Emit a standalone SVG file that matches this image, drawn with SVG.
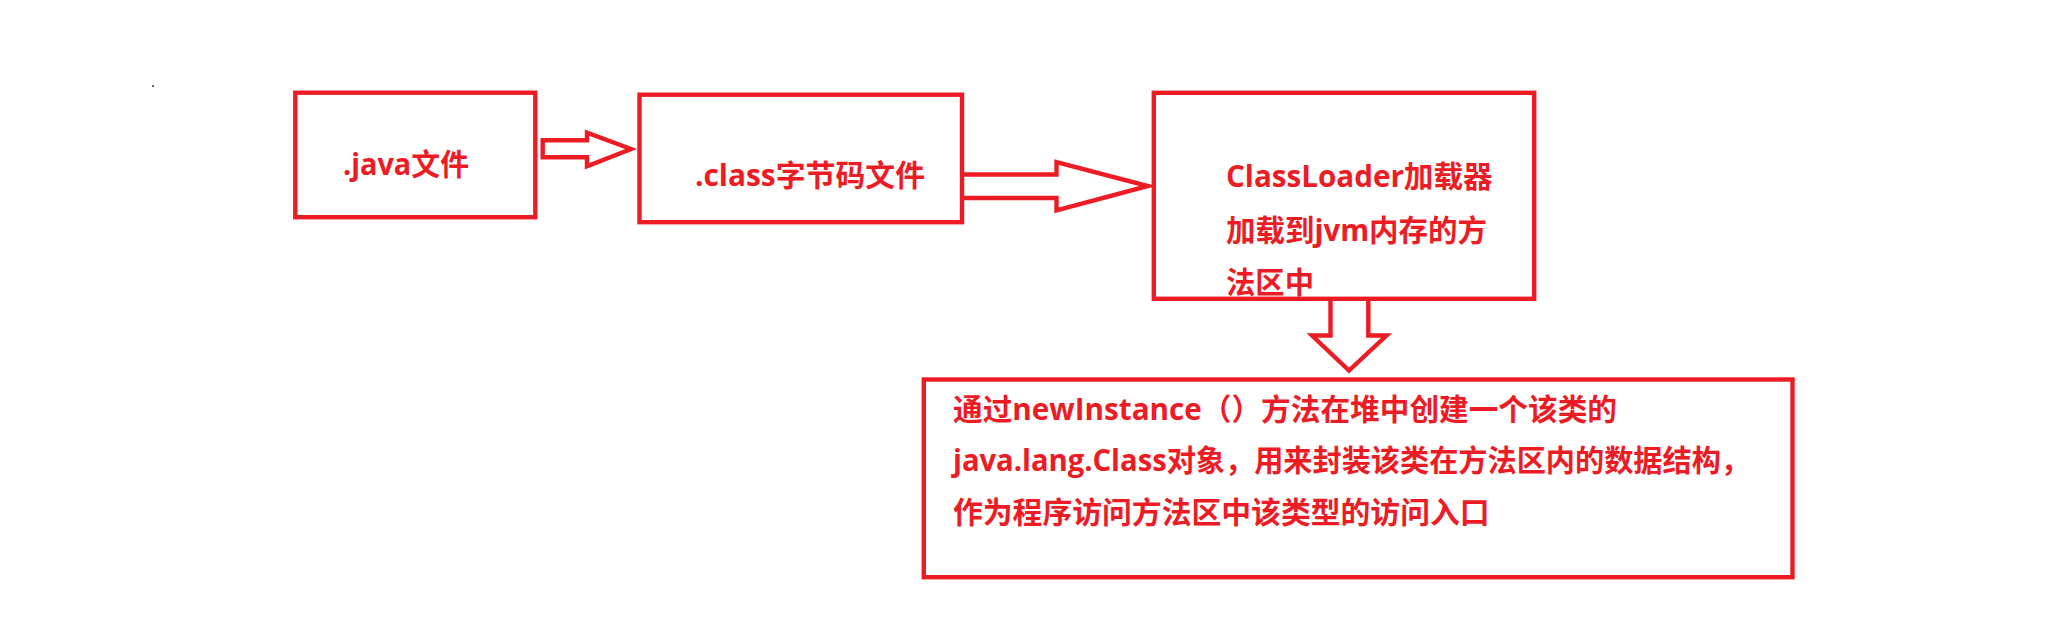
<svg xmlns="http://www.w3.org/2000/svg" width="2051" height="622" viewBox="0 0 2051 622">
<style>
.box{fill:none;stroke:#ED1C24;stroke-width:4.4}
.arr{fill:none;stroke:#ED1C24;stroke-width:4.4;stroke-linejoin:miter}
.t{font-family:"Open Sans","Noto Sans CJK SC",sans-serif;font-weight:bold;font-size:30px;fill:#ED1C24}
</style>
<rect width="2051" height="622" fill="#ffffff"/>
<rect x="152" y="85" width="2" height="2" fill="#666666"/>
<g id="connectors">
<polygon class="arr" points="542.7,140.3 587,140.3 587,132.7 631,149 587,166.3 587,157.3 542.7,157.3"/>
<polyline class="arr" points="963,174.5 1056.5,174.5 1056.5,162 1148,186 1056.5,210.5 1056.5,198 963,198"/>
<polyline class="arr" points="1330.5,299 1330.5,335.5 1312,335.5 1349,370.5 1386.5,335.5 1368.3,335.5 1368.3,299"/>
</g>
<g id="node-java">
<rect class="box" x="295.3" y="92.7" width="240" height="124.5"/>
<text class="t" x="343" y="175" textLength="126" lengthAdjust="spacingAndGlyphs">.java文件</text>
</g>
<g id="node-class">
<rect class="box" x="639.5" y="94.7" width="322.5" height="127.5"/>
<text class="t" x="695" y="186" textLength="230" lengthAdjust="spacingAndGlyphs">.class字节码文件</text>
</g>
<g id="node-classloader">
<rect class="box" x="1153.8" y="92.8" width="380.4" height="206"/>
<text class="t" x="1226" y="187.3" textLength="266.7" lengthAdjust="spacingAndGlyphs">ClassLoader加载器</text>
<text class="t" x="1226" y="240.7" textLength="261" lengthAdjust="spacingAndGlyphs">加载到jvm内存的方</text>
<text class="t" x="1226" y="293.3" textLength="88" lengthAdjust="spacingAndGlyphs">法区中</text>
</g>
<g id="node-newinstance">
<rect class="box" x="923.8" y="379.5" width="868.7" height="197.7"/>
<text class="t" x="953" y="420" textLength="664" lengthAdjust="spacingAndGlyphs">通过newInstance（）方法在堆中创建一个该类的</text>
<text class="t" x="953" y="470.5" textLength="797" lengthAdjust="spacingAndGlyphs">java.lang.Class对象，用来封装该类在方法区内的数据结构，</text>
<text class="t" x="953" y="523" textLength="536.6" lengthAdjust="spacingAndGlyphs">作为程序访问方法区中该类型的访问入口</text>
</g>
</svg>
